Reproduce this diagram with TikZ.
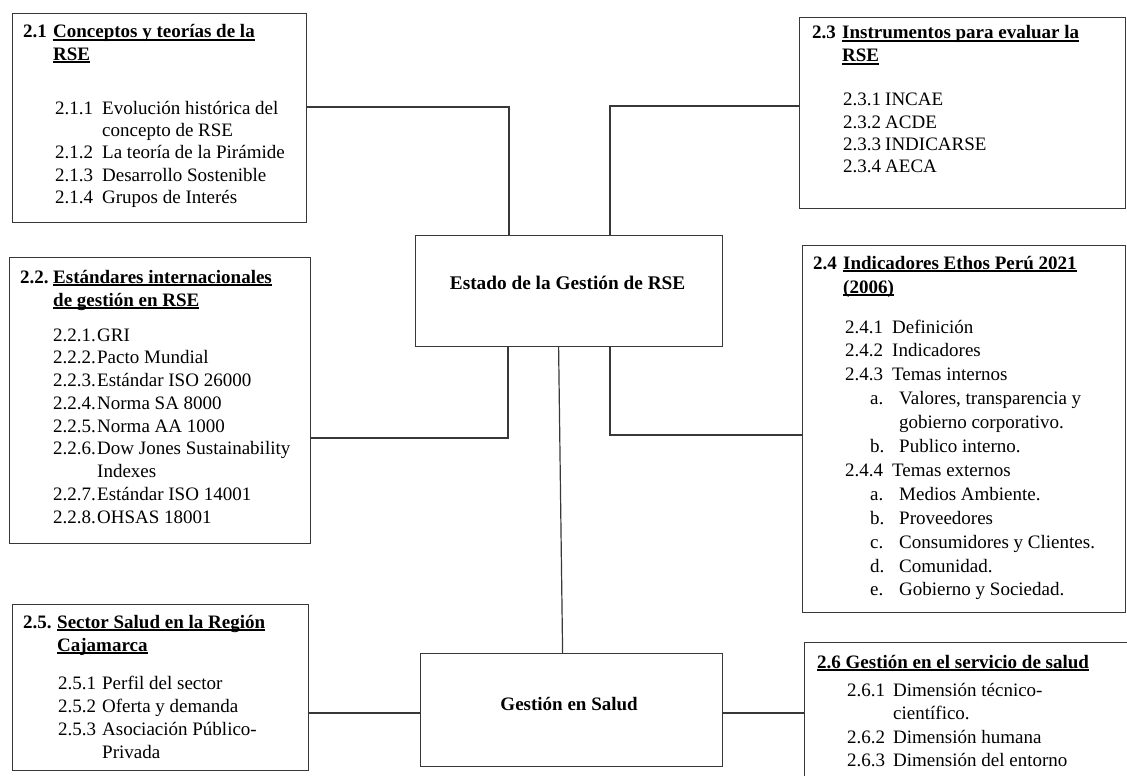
\documentclass[tikz,border=0pt]{standalone}
\usepackage{fontspec}
\setmainfont{Liberation Serif}
\newcommand{\ulx}[1]{\setbox0\hbox{#1}\rlap{\rule[-3pt]{\wd0}{1.6pt}}\box0}
\newcommand{\nb}[2]{\makebox[#1][l]{#2}}
\begin{document}
\begin{tikzpicture}[x=1pt,y=-1pt,
  box/.style={draw=black!78, line width=1.2pt, inner sep=0pt, anchor=north west},
  txt/.style={anchor=base west, inner sep=0pt},
  link/.style={draw=black!78, line width=1.2pt}]
\useasboundingbox (0,0) rectangle (1127,776);

% boxes
\node[box, minimum width=294pt, minimum height=209pt] (b21) at (12,13) {};
\node[box, minimum width=301pt, minimum height=286pt] (b22) at (9,257) {};
\node[box, minimum width=326pt, minimum height=191pt] (b23) at (799,17) {};
\node[box, minimum width=323pt, minimum height=367pt] (b24) at (802,245) {};
\node[box, minimum width=296pt, minimum height=166pt] (b25) at (12,604) {};
\begin{scope}
\clip (0,0) rectangle (1127,776);
\node[box, minimum width=340pt, minimum height=160pt] (b26) at (804,642) {};
\end{scope}
\node[box, minimum width=307pt, minimum height=111pt] (est) at (415,235) {};
\node[box, minimum width=302pt, minimum height=113pt] (ges) at (420,653) {};

% central texts
\node[inner sep=0pt, font=\fontsize{19.3}{23}\selectfont\bfseries] (tE) at ([xshift=-1.5pt,yshift=8.5pt]est.center) {Estado de la Gestión de RSE};
\node[inner sep=0pt, font=\fontsize{19}{23}\selectfont\bfseries] (tG) at ([xshift=-2.5pt,yshift=6.5pt]ges.center) {Gestión en Salud};

% connectors
\coordinate (j1) at (509,107);
\coordinate (j2) at (610,106);
\coordinate (j3) at (508,438);
\coordinate (j4) at (610,435);
\coordinate (j5) at (600,713);
\draw[link] (j1 -| b21.east) -- (j1) -- (j1 |- est.north);
\draw[link] (j2 -| b23.west) -- (j2) -- (j2 |- est.north);
\draw[link] (j3 -| b22.east) -- (j3) -- (j3 |- est.south);
\draw[link] (j4 -| b24.west) -- (j4) -- (j4 |- est.south);
\draw[link] ([xshift=-10.5pt]est.south) -- ([xshift=-9pt]ges.north);
\draw[link] (ges.west |- j5) -- (b25.east |- j5);
\draw[link] (ges.east |- j5) -- (b26.west |- j5);

% box 2.1
\node[txt, font=\fontsize{19}{22}\selectfont\bfseries] (t21) at (23,38) {\begin{tabular}[t]{@{}l@{}}\nb{30pt}{2.1}\ulx{Conceptos y teorías de la}\\ \hspace*{30pt}\ulx{RSE}\end{tabular}};
\node[txt, font=\fontsize{19}{22.2}\selectfont] (i21) at (55,114.5) {\begin{tabular}[t]{@{}l@{}}
\nb{47pt}{2.1.1}Evolución histórica del\\
\hspace*{47pt}concepto de RSE\\
\nb{47pt}{2.1.2}La teoría de la Pirámide\\
\nb{47pt}{2.1.3}Desarrollo Sostenible\\
\nb{47pt}{2.1.4}Grupos de Interés
\end{tabular}};

% box 2.2
\node[txt, font=\fontsize{19}{23}\selectfont\bfseries] (t22) at (20,283) {\begin{tabular}[t]{@{}l@{}}\nb{33pt}{2.2.}\ulx{Estándares internacionales}\\ \hspace*{33pt}\ulx{de gestión en RSE}\end{tabular}};
\node[txt, font=\fontsize{19}{22.75}\selectfont] (i22) at (53,341) {\begin{tabular}[t]{@{}l@{}}
\nb{44pt}{2.2.1.}GRI\\
\nb{44pt}{2.2.2.}Pacto Mundial\\
\nb{44pt}{2.2.3.}Estándar ISO 26000\\
\nb{44pt}{2.2.4.}Norma SA 8000\\
\nb{44pt}{2.2.5.}Norma AA 1000\\
\nb{44pt}{2.2.6.}Dow Jones Sustainability\\
\hspace*{44pt}Indexes\\
\nb{44pt}{2.2.7.}Estándar ISO 14001\\
\nb{44pt}{2.2.8.}OHSAS 18001
\end{tabular}};

% box 2.3
\node[txt, font=\fontsize{19}{23}\selectfont\bfseries] (t23) at (812,39) {\begin{tabular}[t]{@{}l@{}}\nb{30pt}{2.3}\ulx{Instrumentos para evaluar la}\\ \hspace*{30pt}\ulx{RSE}\end{tabular}};
\node[txt, font=\fontsize{19}{22.3}\selectfont] (i23) at (843,106) {\begin{tabular}[t]{@{}l@{}}
\nb{42pt}{2.3.1}INCAE\\
\nb{42pt}{2.3.2}ACDE\\
\nb{42pt}{2.3.3}INDICARSE\\
\nb{42pt}{2.3.4}AECA
\end{tabular}};

% box 2.4
\node[txt, font=\fontsize{19}{24}\selectfont\bfseries] (t24) at (813,269) {\begin{tabular}[t]{@{}l@{}}\nb{30pt}{2.4}\ulx{Indicadores Ethos Perú 2021}\\ \hspace*{30pt}\ulx{(2006)}\end{tabular}};
\node[txt, font=\fontsize{19}{23.9}\selectfont] (i24) at (845,333) {\begin{tabular}[t]{@{}l@{}}
\nb{47pt}{2.4.1}Definición\\
\nb{47pt}{2.4.2}Indicadores\\
\nb{47pt}{2.4.3}Temas internos\\
\hspace*{25pt}\nb{29pt}{a.}Valores, transparencia y\\
\hspace*{54pt}gobierno corporativo.\\
\hspace*{25pt}\nb{29pt}{b.}Publico interno.\\
\nb{47pt}{2.4.4}Temas externos\\
\hspace*{25pt}\nb{29pt}{a.}Medios Ambiente.\\
\hspace*{25pt}\nb{29pt}{b.}Proveedores\\
\hspace*{25pt}\nb{29pt}{c.}Consumidores y Clientes.\\
\hspace*{25pt}\nb{29pt}{d.}Comunidad.\\
\hspace*{25pt}\nb{29pt}{e.}Gobierno y Sociedad.
\end{tabular}};

% box 2.5
\node[txt, font=\fontsize{19}{23}\selectfont\bfseries] (t25) at (23,628) {\begin{tabular}[t]{@{}l@{}}\nb{34pt}{2.5.}\ulx{Sector Salud en la Región}\\ \hspace*{34pt}\ulx{Cajamarca}\end{tabular}};
\node[txt, font=\fontsize{19}{23.3}\selectfont] (i25) at (58,689) {\begin{tabular}[t]{@{}l@{}}
\nb{44pt}{2.5.1}Perfil del sector\\
\nb{44pt}{2.5.2}Oferta y demanda\\
\nb{44pt}{2.5.3}Asociación Público-\\
\hspace*{44pt}Privada
\end{tabular}};

% box 2.6
\node[txt, font=\fontsize{19}{23}\selectfont\bfseries] (t26) at (817,668) {\ulx{2.6 Gestión en el servicio de salud}};
\node[txt, font=\fontsize{19}{23.5}\selectfont] (i26) at (847,696) {\begin{tabular}[t]{@{}l@{}}
\nb{46pt}{2.6.1}Dimensión técnico-\\
\hspace*{46pt}científico.\\
\nb{46pt}{2.6.2}Dimensión humana\\
\nb{46pt}{2.6.3}Dimensión del entorno
\end{tabular}};
\end{tikzpicture}
\end{document}
